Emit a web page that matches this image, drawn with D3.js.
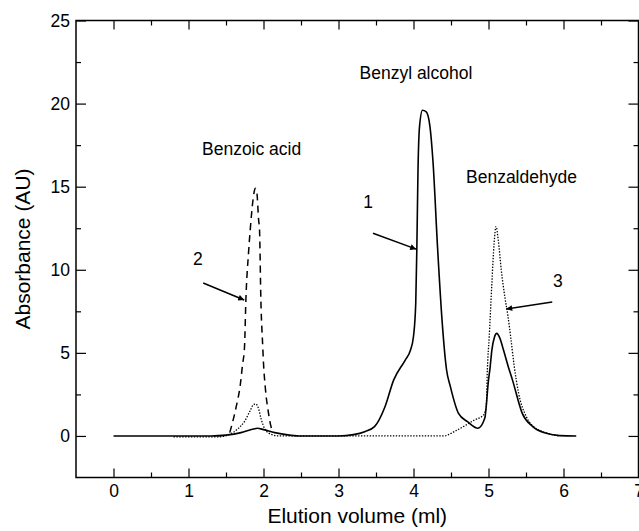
<!DOCTYPE html>
<html>
<head>
<meta charset="utf-8">
<script src="https://cdn.jsdelivr.net/npm/d3@7/dist/d3.min.js"></script>
<style>
  body { margin: 0; background: #fff; }
  svg { display: block; }
  text { font-family: "Liberation Sans", Arial, Helvetica, sans-serif; fill: #000; }
</style>
</head>
<body>
<svg id="chart" width="639" height="531"></svg>
<script>
// Trace 1 (solid) — run with benzyl alcohol + benzaldehyde peaks
const trace1 = [
  [0, 0], [1.3, 0], [1.5, 0.05], [1.7, 0.2], [1.85, 0.4], [1.92, 0.46], [2.0, 0.38],
  [2.15, 0.2], [2.3, 0.08], [2.47, 0], [3.0, 0], [3.2, 0.08], [3.35, 0.26], [3.48, 0.56],
  [3.62, 1.76], [3.735, 3.36], [3.89, 4.57], [3.96, 5.17], [4.0, 6.0], [4.03, 8.0],
  [4.045, 11.4], [4.06, 16.0], [4.08, 18.6], [4.12, 19.6], [4.17, 19.5], [4.22, 18.6],
  [4.26, 16.5], [4.32, 11.4], [4.38, 7.0], [4.44, 4.0], [4.49, 3.0], [4.6, 1.36],
  [4.72, 0.86], [4.86, 0.46], [4.95, 1.06], [5.0, 3.36], [5.02, 4.07], [5.045, 5.17],
  [5.08, 5.95], [5.11, 6.17], [5.15, 5.9], [5.2, 5.17], [5.27, 4.07], [5.32, 3.36],
  [5.45, 1.36], [5.59, 0.56], [5.77, 0.16], [5.95, 0.02], [6.17, 0]
];

// Trace 2 (dashed) — benzoic acid peak
const trace2 = [
  [1.55, 0.2], [1.578, 0.66], [1.636, 1.76], [1.69, 3.06], [1.72, 4.27], [1.747, 5.37],
  [1.765, 8.18], [1.8, 11.0], [1.823, 12.4], [1.86, 14.2], [1.89, 14.9], [1.91, 14.7],
  [1.935, 13.0], [1.947, 12.4], [1.965, 8.18], [1.99, 5.37], [2.0, 4.37], [2.023, 2.96],
  [2.067, 1.36], [2.09, 0.76], [2.11, 0.4]
];

// Trace 3 (dotted) — benzaldehyde peak
const trace3 = [
  [0.8, -0.05], [1.4, -0.05], [1.55, 0.1], [1.65, 0.4], [1.75, 0.9], [1.82, 1.5],
  [1.87, 1.9], [1.9, 1.92], [1.93, 1.7], [1.97, 1.0], [2.02, 0.4], [2.1, 0.1], [2.2, 0],
  [4.4, 0], [4.58, 0.35], [4.81, 0.95], [4.93, 1.25], [4.97, 1.75], [4.985, 4.0],
  [5.01, 6.0], [5.045, 9.2], [5.075, 11.6], [5.1, 12.6], [5.13, 11.8], [5.17, 10.0],
  [5.22, 8.3], [5.26, 7.2], [5.3, 5.8], [5.34, 4.3], [5.4, 2.6], [5.5, 1.2],
  [5.62, 0.5], [5.8, 0.15], [5.95, 0]
];

const xMajorTicks = [0, 1, 2, 3, 4, 5, 6, 7];
const xMinorTicks = [0.5, 1.5, 2.5, 3.5, 4.5, 5.5, 6.5];
const yMajorTicks = [0, 5, 10, 15, 20, 25];
const yMinorTicks = [2.5, 7.5, 12.5, 17.5, 22.5];

// compound names and trace numbers: [text, x, y]
const peakNames = [
  ["Benzoic acid", 1.18, 16.9],
  ["Benzyl alcohol", 3.28, 21.5],
  ["Benzaldehyde", 4.70, 15.2]
];
const traceNumbers = [
  ["1", 3.33, 13.7],
  ["2", 1.06, 10.3],
  ["3", 5.86, 8.96]
];
// arrows: [fromX, fromY, toX, toY]
const arrows = [
  [3.46, 12.2, 4.036, 11.24],
  [1.196, 9.2, 1.743, 8.18],
  [5.85, 8.06, 5.236, 7.64]
];

const svg = d3.select('#chart');
const x = d3.scaleLinear().domain([-0.5, 7]).range([76, 638.5]);
const y = d3.scaleLinear().domain([-2.5, 25]).range([477.5, 20.5]);
const [x0, x1] = x.range(), [y0, y1] = y.range();

// Axes — ticks point inward on all four sides
function styleAxis(g) {
  g.select('.domain').remove();
  g.selectAll('.tick line').attr('stroke', '#000').attr('stroke-width', 1.2);
  g.selectAll('.tick text').attr('font-size', '17.5px').attr('fill', '#000');
}
svg.append('g').attr('transform', `translate(0,${y0})`)
  .call(d3.axisBottom(x).tickValues(xMajorTicks).tickSize(-9).tickPadding(7).tickFormat(d3.format('d')))
  .call(styleAxis);
svg.append('g').attr('transform', `translate(0,${y0})`)
  .call(d3.axisBottom(x).tickValues(xMinorTicks).tickSize(-5).tickFormat(''))
  .call(styleAxis);
svg.append('g').attr('transform', `translate(0,${y1})`)
  .call(d3.axisTop(x).tickValues(xMajorTicks).tickSize(-9).tickFormat(''))
  .call(styleAxis);
svg.append('g').attr('transform', `translate(0,${y1})`)
  .call(d3.axisTop(x).tickValues(xMinorTicks).tickSize(-5).tickFormat(''))
  .call(styleAxis);
svg.append('g').attr('transform', `translate(${x0},0)`)
  .call(d3.axisLeft(y).tickValues(yMajorTicks).tickSize(-10).tickPadding(6).tickFormat(d3.format('d')))
  .call(styleAxis);
svg.append('g').attr('transform', `translate(${x0},0)`)
  .call(d3.axisLeft(y).tickValues(yMinorTicks).tickSize(-5).tickFormat(''))
  .call(styleAxis);
svg.append('g').attr('transform', `translate(${x1},0)`)
  .call(d3.axisRight(y).tickValues(yMajorTicks).tickSize(-10).tickFormat(''))
  .call(styleAxis);
svg.append('g').attr('transform', `translate(${x1},0)`)
  .call(d3.axisRight(y).tickValues(yMinorTicks).tickSize(-5).tickFormat(''))
  .call(styleAxis);

// Frame
svg.append('rect')
  .attr('x', x0).attr('y', y1)
  .attr('width', x1 - x0).attr('height', y0 - y1)
  .attr('fill', 'none').attr('stroke', '#000').attr('stroke-width', 1.5);

// Axis titles
svg.append('text')
  .attr('x', (x0 + x1) / 2).attr('y', 523)
  .attr('text-anchor', 'middle').attr('font-size', '21px')
  .text('Elution volume (ml)');
svg.append('text')
  .attr('transform', `translate(30,${(y0 + y1) / 2}) rotate(-90)`)
  .attr('text-anchor', 'middle').attr('font-size', '21px')
  .text('Absorbance (AU)');

// Traces
const line = d3.line().x(d => x(d[0])).y(d => y(d[1])).curve(d3.curveMonotoneX);
svg.append('path').datum(trace3)
  .attr('d', line).attr('fill', 'none').attr('stroke', '#000')
  .attr('stroke-width', 1.3).attr('stroke-dasharray', '1.4,1.5');
svg.append('path').datum(trace2)
  .attr('d', line).attr('fill', 'none').attr('stroke', '#000')
  .attr('stroke-width', 1.5).attr('stroke-dasharray', '7,5');
svg.append('path').datum(trace1)
  .attr('d', line).attr('fill', 'none').attr('stroke', '#000')
  .attr('stroke-width', 1.6);

// Annotations
svg.selectAll('text.peak')
  .data(peakNames).enter().append('text')
  .attr('class', 'peak')
  .attr('x', d => x(d[1])).attr('y', d => y(d[2]))
  .attr('font-size', '17.5px')
  .text(d => d[0]);
svg.selectAll('text.num')
  .data(traceNumbers).enter().append('text')
  .attr('class', 'num')
  .attr('x', d => x(d[1])).attr('y', d => y(d[2]))
  .attr('font-size', '17.5px')
  .text(d => d[0]);

const defs = svg.append('defs');
defs.append('marker')
  .attr('id', 'arrowhead')
  .attr('viewBox', '0 -5 10 10')
  .attr('refX', 10).attr('refY', 0)
  .attr('markerWidth', 5).attr('markerHeight', 4)
  .attr('markerUnits', 'strokeWidth')
  .attr('orient', 'auto')
  .append('path')
  .attr('d', 'M0,-5L10,0L0,5Z')
  .attr('fill', '#000');

svg.selectAll('line.arrow')
  .data(arrows).enter().append('line')
  .attr('class', 'arrow')
  .attr('x1', d => x(d[0])).attr('y1', d => y(d[1]))
  .attr('x2', d => x(d[2])).attr('y2', d => y(d[3]))
  .attr('stroke', '#000').attr('stroke-width', 1.5)
  .attr('marker-end', 'url(#arrowhead)');
</script>
</body>
</html>
